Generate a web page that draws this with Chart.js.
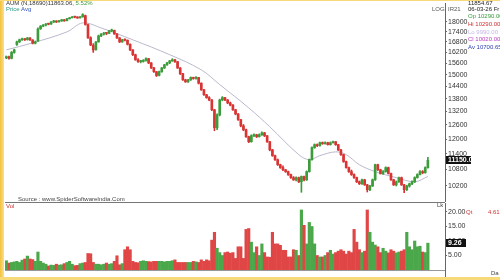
<!DOCTYPE html>
<html>
<head>
<meta charset="utf-8">
<script src="https://cdn.jsdelivr.net/npm/chart.js@4"></script>
<style>
  body { margin: 0; width: 500px; height: 280px; overflow: hidden; background: #fff; position: relative; font-family: "Liberation Sans", Arial, sans-serif; }
  canvas { position: absolute; }
  .t { position: absolute; font-size: 6px; line-height: 7px; white-space: nowrap; color: #333; }
  .band { position: absolute; background: #f8d97a; }
</style>
</head>
<body>
<canvas id="priceChart" width="496" height="202" style="left:4px;top:0px;width:496px;height:202px"></canvas>
<canvas id="volChart" width="496" height="76" style="left:4px;top:202px;width:496px;height:76px"></canvas>

<div class="band" style="left:0;top:0;width:4px;height:280px;background:linear-gradient(to right,#f3c23c,#f9df90)"></div>
<div class="band" style="left:0;top:0;width:500px;height:1px"></div>
<div class="band" style="left:0;top:277px;width:500px;height:3px"></div>
<div style="position:absolute;left:5px;top:202px;width:440px;height:1px;background:#777"></div>
<div style="position:absolute;left:445px;top:269px;width:1px;height:8px;background:#666"></div>

<div class="t" style="left:6px;top:0px">AUM (N,18690)11863.06, <span style="color:#3a9a3a">5.52%</span></div>
<div class="t" style="left:6px;top:6px"><span style="color:#2a9a8a">Price</span> <span style="color:#3050c0">Avg</span></div>
<div class="t" style="left:432px;top:6px;color:#555">LOG</div>
<div class="t" style="left:448px;top:6px;color:#555">IR21</div>
<div class="t" style="left:468px;top:0px;color:#222">11854.67</div>
<div class="t" style="left:468px;top:6px;color:#222">06-03-26 Fr</div>
<div class="t" style="left:468px;top:13px;color:#3a9a3a">Op 10290.00</div>
<div class="t" style="left:468px;top:21px;color:#d03030">Hi 10290.00</div>
<div class="t" style="left:468px;top:29px;color:#c6b8e6">Lo 9990.00</div>
<div class="t" style="left:468px;top:36px;color:#c040c0">Cl 10020.00</div>
<div class="t" style="left:468px;top:44px;color:#3040b0">Av 10700.65</div>
<div class="t" style="left:18px;top:196px;color:#444">Source : www.SpiderSoftwareIndia.Com</div>
<div class="t" style="left:6px;top:203px;color:#d03030">Vol</div>
<div class="t" style="left:437px;top:202px;color:#444">Lk</div>
<div class="t" style="left:466px;top:209px;color:#d03030">Qt</div>
<div class="t" style="left:488px;top:209px;color:#d03030">4.61</div>
<div class="t" style="left:491px;top:270px;color:#444">Da</div>

<script>
const opens = [
  15900,15960,15870,16200,16650,16800,16920,16980,16930,17030,
  16910,16720,16850,17580,17740,17810,17880,17870,18000,18060,
  18010,18070,18130,18080,18200,18260,18310,18300,18260,18320,
  18400,17830,17040,16600,16350,16800,17150,17260,17320,17300,
  17450,17480,17270,17030,16800,16920,16900,16660,16340,16070,
  15790,15690,15700,15750,15850,15620,15350,15150,14960,15150,
  15350,15520,15620,15730,15790,15690,15350,15050,14730,14630,
  14730,14850,14800,14850,14560,14230,13990,13850,13740,13280,
  12480,13050,13740,13850,13740,13600,13500,13280,13090,12830,
  12560,12390,12100,11890,12140,12180,12100,12180,12260,12140,
  11890,11560,11330,11170,10980,10870,10790,10720,10610,10500,
  10420,10500,10350,10540,10420,10720,11170,11650,11770,11730,
  11850,11810,11850,11770,11850,11890,11770,11560,11370,11100,
  10870,10720,10610,10500,10350,10280,10420,10240,10070,10200,
  10420,10980,10790,10650,10720,10870,10650,10420,10240,10350,
  10500,10240,10070,10200,10280,10350,10500,10610,10720,10680,
  10870
];
const highs = [
  16000,15990,16250,16380,16850,16960,17020,17000,17060,17050,
  16930,16850,17640,17780,17840,17900,17920,18030,18100,18080,
  18100,18160,18150,18220,18280,18340,18360,18330,18340,18520,
  18430,17860,17100,16700,16820,17200,17290,17360,17360,17480,
  17560,17500,17290,17050,16950,16980,16910,16680,16360,16100,
  15850,15760,15800,15900,15870,15640,15380,15170,15180,15380,
  15540,15650,15760,15850,15810,15700,15370,15070,14760,14760,
  14880,14870,14900,14860,14580,14250,14010,13900,13760,13300,
  13100,13780,13900,13870,13760,13640,13520,13300,13110,12850,
  12620,12420,12120,12180,12220,12200,12220,12300,12280,12150,
  11900,11580,11350,11200,11000,10940,10800,10740,10630,10540,
  10530,10520,10560,10560,10750,11200,11680,11800,11800,11870,
  11880,11890,11870,11880,11920,11900,11780,11580,11390,11120,
  10890,10780,10640,10520,10380,10450,10440,10260,10220,10450,
  11000,11000,10810,10760,10900,10890,10670,10440,10380,10520,
  10520,10260,10230,10300,10380,10530,10640,10760,10760,10900,
  11260
];
const lows = [
  15850,15820,15840,16150,16600,16760,16880,16880,16900,16880,
  16680,16680,16820,17540,17700,17760,17820,17840,17960,17960,
  17980,18030,18040,18060,18180,18250,18260,18220,18240,18300,
  17800,17000,16580,16200,16320,16780,17100,17200,17220,17280,
  17400,17240,17000,16760,16770,16860,16620,16300,16020,15760,
  15640,15620,15660,15720,15580,15320,15120,14900,14930,15120,
  15320,15480,15580,15700,15640,15320,15000,14700,14600,14600,
  14700,14760,14770,14520,14200,13960,13820,13700,13240,12350,
  12400,13000,13700,13700,13560,13460,13250,13050,12800,12520,
  12350,12070,11850,11870,12100,12060,12080,12150,12100,11860,
  11520,11300,11140,10950,10840,10760,10690,10580,10470,10400,
  10380,10320,9980,10380,10400,10700,11150,11620,11690,11710,
  11780,11790,11750,11750,11830,11740,11530,11340,11070,10850,
  10690,10580,10470,10320,10250,10260,10220,9990,10040,10180,
  10400,10760,10630,10620,10700,10630,10400,10220,10200,10330,
  10220,9970,10040,10160,10250,10320,10480,10600,10640,10660,
  10850
];
const closes = [
  15960,15860,16200,16340,16800,16920,16980,16920,17030,16910,
  16720,16800,17560,17740,17810,17870,17860,18000,18060,18000,
  18070,18130,18070,18190,18250,18310,18300,18250,18320,18460,
  17840,17040,16620,16340,16800,17150,17260,17320,17300,17450,
  17500,17270,17030,16800,16920,16900,16660,16340,16070,15790,
  15690,15700,15750,15850,15620,15350,15150,14950,15150,15350,
  15520,15620,15730,15790,15690,15350,15050,14730,14630,14730,
  14850,14800,14850,14560,14230,13990,13850,13740,13280,12480,
  13050,13740,13850,13740,13600,13500,13280,13090,12830,12560,
  12390,12100,11890,12140,12180,12100,12180,12260,12140,11890,
  11560,11330,11170,10980,10870,10790,10720,10610,10500,10420,
  10500,10350,10540,10420,10720,11170,11650,11770,11730,11850,
  11810,11850,11770,11850,11890,11770,11560,11370,11100,10870,
  10720,10610,10500,10350,10280,10420,10240,10070,10200,10420,
  10980,10790,10650,10720,10870,10650,10420,10240,10350,10500,
  10240,10070,10200,10280,10350,10500,10610,10720,10680,10870,
  11150
];
const volumes = [
  3.2,2.4,2.6,2.8,3.0,2.6,3.4,3.8,4.8,3.8,
  3.6,3.0,6.2,3.0,2.4,2.0,1.4,1.7,1.6,2.0,
  1.7,1.8,2.2,2.6,3.0,2.0,1.5,1.6,2.2,2.4,
  2.6,5.7,5.6,2.6,2.0,2.0,1.8,2.0,2.4,2.0,
  2.2,3.0,4.9,1.8,2.2,7.0,8.0,7.0,3.0,2.6,
  2.5,3.0,3.2,3.0,2.9,2.8,3.0,3.0,3.0,3.0,
  2.8,3.0,3.0,3.2,3.5,2.6,2.6,2.6,2.6,2.6,
  2.6,3.0,2.8,2.6,3.5,3.0,3.5,3.2,10.3,13.0,
  7.5,6.0,5.0,6.0,6.2,5.8,6.0,4.0,8.0,8.0,
  4.0,14.0,14.3,9.6,6.0,8.0,5.0,9.0,6.0,4.5,
  4.4,13.0,9.0,9.0,8.5,6.8,6.8,4.5,4.5,7.0,
  6.8,5.0,20.7,15.4,9.0,16.4,15.0,9.0,5.0,4.5,
  4.5,5.0,6.0,6.8,5.5,6.0,6.5,7.0,6.5,5.5,
  6.5,6.0,14.0,9.6,7.0,6.0,6.5,20.7,13.0,9.6,
  8.6,8.0,6.0,7.5,6.5,5.9,7.0,6.5,5.9,6.2,
  6.5,7.0,13.0,8.0,7.0,10.0,8.0,8.2,6.2,6.0,
  9.26
];
// average line, read at a few points
const avgIndex = [0,10,23,29,36,48,62,74,81,92,100,111,115,119,125,129,134,140,148,155,160];
const avgValue = [16340,16740,17390,17940,17630,16920,16070,15250,14490,13370,12520,11370,11170,11330,11480,11370,10980,10720,10500,10350,10540];

const monthStarts = [0,13,34,55,73,94,113,133,152];
const monthNames = ["'25-8","S","O","N","D","'26-1","F","M","A"];
const priceTicks = [10200,10800,11400,12000,12600,13200,13800,14400,15000,15600,16200,16800,17400,18000];
const volTicks = [5,10,15,20];
const SLOTS = 167;

const UP = '#3c9c3c', DOWN = '#d83434';
const VUP = '#4aa84a', VDOWN = '#e04646';

Chart.defaults.font.family = '"Liberation Sans", Arial, sans-serif';
Chart.defaults.animation = false;

const labels = [];
for (let i = 0; i < SLOTS; i++) labels.push('');
monthStarts.forEach((k, j) => labels[k] = monthNames[j]);

const candleColors = closes.map((c, k) => c >= opens[k] ? UP : DOWN);
const volColors = closes.map((c, k) => c >= opens[k] ? VUP : VDOWN);

const avgSeries = labels.map(() => null);
avgIndex.forEach((k, j) => avgSeries[k] = avgValue[j]);

const lastBox = {
  id: 'lastBox',
  afterDraw(chart, args, opts) {
    const s = chart.scales.y;
    const y = s.getPixelForValue(opts.value);
    const ctx = chart.ctx;
    ctx.save();
    ctx.fillStyle = '#111';
    ctx.fillRect(s.left + 1, Math.round(y) - 4, opts.w, 8);
    ctx.fillStyle = '#fff';
    ctx.font = 'bold 7px "Liberation Sans", Arial';
    ctx.textBaseline = 'middle';
    ctx.fillText(opts.text, s.left + 3, Math.round(y));
    ctx.restore();
  }
};

function fixWidth(scale) {
  scale.width = 55;
  scale.paddingTop = 0;
  scale.paddingBottom = 0;
}

new Chart(document.getElementById('priceChart'), {
  data: {
    labels: labels,
    datasets: [
      {
        type: 'line',
        data: avgSeries,
        borderColor: '#b9b9cc',
        borderWidth: 1,
        pointRadius: 0,
        spanGaps: true,
        tension: 0.35,
        order: 3
      },
      {
        type: 'bar',
        data: highs.map((h, k) => [lows[k], h]),
        backgroundColor: candleColors,
        barThickness: 1,
        grouped: false,
        order: 2
      },
      {
        type: 'bar',
        data: opens.map((o, k) => [o, closes[k]]),
        backgroundColor: candleColors,
        barThickness: 2,
        minBarLength: 1,
        grouped: false,
        order: 1
      }
    ]
  },
  options: {
    responsive: false,
    devicePixelRatio: 1,
    layout: { padding: { left: 1, top: 3, right: 0, bottom: 0 } },
    scales: {
      x: { display: false },
      y: {
        type: 'logarithmic',
        position: 'right',
        min: 9650,
        max: 19220,
        bounds: 'data',
        afterBuildTicks: s => { s.ticks = priceTicks.map(v => ({ value: v })); },
        afterFit: fixWidth,
        grid: { drawOnChartArea: false, tickLength: 2, color: '#666' },
        border: { color: '#666' },
        ticks: {
          callback: v => String(v),
          font: { size: 7 },
          color: '#333',
          padding: 1
        }
      }
    },
    plugins: {
      legend: { display: false },
      tooltip: { enabled: false },
      lastBox: { value: closes[closes.length - 1], text: closes[closes.length - 1].toFixed(2), w: 25 }
    }
  },
  plugins: [lastBox]
});

new Chart(document.getElementById('volChart'), {
  type: 'bar',
  data: {
    labels: labels,
    datasets: [{
      data: volumes,
      backgroundColor: volColors,
      barThickness: 2.5
    }]
  },
  options: {
    responsive: false,
    devicePixelRatio: 1,
    layout: { padding: { left: 1, top: 1, right: 0, bottom: 0 } },
    scales: {
      x: {
        afterFit: s => { s.height = 8; s.paddingLeft = 0; s.paddingRight = 0; },
        grid: { display: false },
        border: { color: '#999' },
        ticks: {
          autoSkip: false,
          maxRotation: 0,
          minRotation: 0,
          align: 'start',
          padding: 0,
          font: { size: 6 },
          color: '#444'
        }
      },
      y: {
        position: 'right',
        min: 0,
        max: 23.1,
        afterBuildTicks: s => { s.ticks = volTicks.map(v => ({ value: v })); },
        afterFit: fixWidth,
        grid: { drawOnChartArea: false, tickLength: 2, color: '#666' },
        border: { color: '#666' },
        ticks: {
          callback: v => v.toFixed(2),
          font: { size: 7 },
          color: '#333',
          padding: 1
        }
      }
    },
    plugins: {
      legend: { display: false },
      tooltip: { enabled: false },
      lastBox: { value: volumes[volumes.length - 1], text: volumes[volumes.length - 1].toFixed(2), w: 20 }
    }
  },
  plugins: [lastBox]
});
</script>
</body>
</html>
